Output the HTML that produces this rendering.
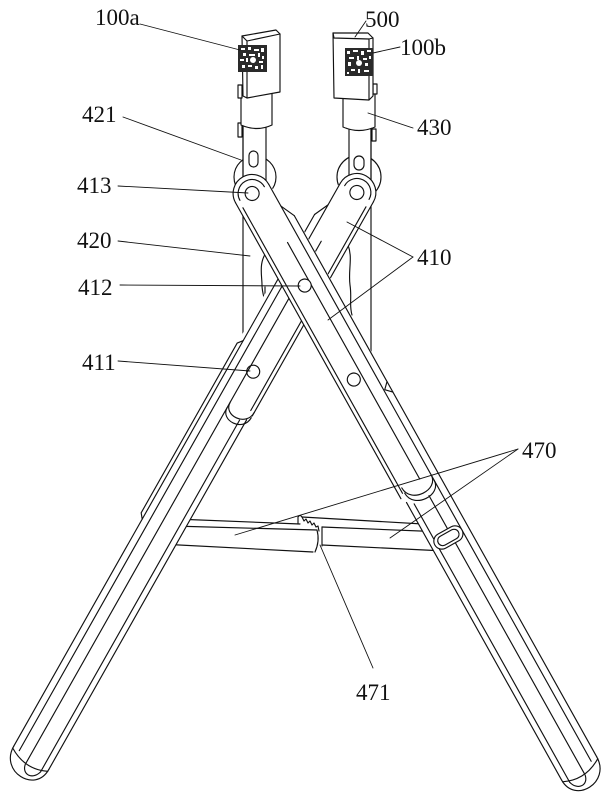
<!DOCTYPE html>
<html><head><meta charset="utf-8"><style>
html,body{margin:0;padding:0;background:#fff;}
svg{display:block;}
text{font-family:"Liberation Serif","DejaVu Serif",serif;font-size:23px;fill:#111;}
</style></head><body>
<svg width="609" height="800" viewBox="0 0 609 800" xmlns="http://www.w3.org/2000/svg">
<rect width="609" height="800" fill="#fff"/>
<g fill="none" stroke="#111" stroke-width="1.15" stroke-linejoin="round" stroke-linecap="round">

<!-- crossbar 470 -->
<line x1="175" y1="519" x2="300" y2="524"/>
<line x1="172" y1="526" x2="317" y2="530"/>
<line x1="160" y1="544" x2="313" y2="552"/>
<path d="M317,530 Q320,541 315,552"/>
<line x1="302" y1="517" x2="440" y2="525"/>
<line x1="322" y1="527" x2="445" y2="532"/>
<line x1="322" y1="545" x2="445" y2="551"/>
<line x1="322" y1="527" x2="322" y2="546"/>
<path d="M298,524 L298,517 Q300,514 302,517 L304,521 L306,519 L308,523 L310,521 L312,525 L314,523 L316,527 L318,526 L319,531"/>

<!-- housings behind pivots -->
<circle cx="255" cy="177" r="21" fill="#fff"/>
<circle cx="359" cy="177" r="22" fill="#fff"/>

<!-- rods 420 -->
<rect x="243" y="125" width="23" height="55" fill="#fff"/>
<rect x="349" y="128" width="22" height="52" fill="#fff"/>
<line x1="243" y1="125" x2="243" y2="345"/>
<line x1="371" y1="128" x2="371" y2="355"/>
<rect x="249" y="151" width="9" height="16" rx="4.5" fill="#fff"/>
<rect x="354" y="156" width="10" height="14" rx="5" fill="#fff"/>
<path d="M268,250 C258,262 262,275 262,285 C262,295 266,300 266,310"/>
<path d="M348,245 C353,258 348,270 350,285 C352,298 349,305 352,315"/>
<line x1="265" y1="287" x2="265" y2="310"/>

<!-- leg B (back) -->
<g transform="translate(609,0) scale(-1,1) translate(253,192) rotate(-29.5)">
 <path fill="#fff" stroke="none" d="M-20,0 A19,19 0 0 1 18,0 L29,40 L29,651 C26,680 -17,682 -17,654 L-17,250 L-20,246 Z"/>
 <path d="M-20,0 A19,19 0 0 1 18,0"/>
 <path d="M-15,0 A14,14 0 0 1 13,0"/>
 <circle cx="-1" cy="0" r="7"/>
 <line x1="-20" y1="0" x2="-20" y2="246"/>
 <line x1="-16" y1="8" x2="-16" y2="242"/>
 <path d="M-20,242 C-20,259 6,260 6,245"/>
 <path d="M-20,248 C-20,265 6,266 6,251"/>
 <line x1="-17" y1="252" x2="-17" y2="654"/>
 <line x1="-11" y1="256" x2="-11" y2="660"/>
 <line x1="18" y1="0" x2="18" y2="652"/>
 <line x1="6" y1="60" x2="6" y2="660"/>
 <line x1="25" y1="40" x2="25" y2="651"/>
 <path d="M18,25 L25,40"/>
 <path d="M25,185 L29,190 L29,385 L25,390"/>
 <path d="M-17,654 C-17,682 25,680 25,651"/>
 <path d="M-11,660 C-8,671 4,672 6,661"/>
 <path d="M-17,656 Q4,666 25,653"/>
 <circle cx="1" cy="207" r="6.5"/>
</g>

<!-- leg A (front) -->
<g transform="translate(253,193) rotate(-29.2)">
 <path fill="#fff" stroke="none" d="M-20,0 A19,19 0 0 1 18,0 L26,40 L26,660 C26,689 -17,691 -17,663 L-17,345 L-20,340 Z"/>
 <path d="M-20,0 A19,19 0 0 1 18,0"/>
 <path d="M-15,0 A14,14 0 0 1 13,0"/>
 <circle cx="-1" cy="0" r="7"/>
 <line x1="-20" y1="0" x2="-20" y2="339"/>
 <line x1="-16" y1="8" x2="-16" y2="335"/>
 <path d="M-14,330 C-14,349 18,350 18,333" fill="#fff"/>
 <path d="M-14,336 C-14,355 18,356 18,339"/>
 <line x1="-17" y1="345" x2="-17" y2="663"/>
 <line x1="-11" y1="350" x2="-11" y2="669"/>
 <line x1="18" y1="0" x2="18" y2="661"/>
 <line x1="6" y1="60" x2="6" y2="331"/>
 <line x1="6" y1="350" x2="6" y2="669"/>
 <line x1="25" y1="40" x2="25" y2="660"/>
 <path d="M18,25 L25,40"/>
 <path d="M25,230 L19,236 L25,242"/>
 <path d="M-17,663 C-17,691 25,689 25,660"/>
 <path d="M-11,669 C-8,680 4,681 6,670"/>
 <path d="M-17,665 Q4,675 25,662"/>
 <circle cx="0" cy="106" r="6.5" fill="#fff"/>
 <circle cx="-3" cy="212" r="6.5" fill="#fff"/>
 <rect x="-13" y="388" width="31" height="16" rx="8" fill="#fff"/>
 <rect x="-9" y="391" width="23" height="10" rx="5"/>
</g>

<!-- left tube + head -->
<rect x="238" y="123" width="4" height="14" fill="#fff"/>
<path d="M241,86 L241,125 Q257,132 272,125 L272,88" fill="#fff"/>
<rect x="238" y="85" width="4" height="13" fill="#fff"/>
<path d="M242,36 L276,30 L280,34 L280,92 L247,98 L243,96 Z" fill="#fff"/>
<path d="M242,36 L247,41 L280,34 M247,41 L247,98"/>
<g transform="translate(238,45)" stroke="none">
 <rect width="29" height="27" fill="#2a2a2a"/>
 <g fill="#fff">
  <rect x="3" y="3" width="4" height="2"/><rect x="10" y="2" width="3" height="3"/>
  <rect x="16" y="4" width="5" height="2"/><rect x="23" y="3" width="3" height="4"/>
  <rect x="5" y="8" width="3" height="3"/><rect x="11" y="9" width="6" height="2"/>
  <rect x="20" y="8" width="2" height="4"/><rect x="24" y="11" width="2" height="3"/>
  <rect x="2" y="14" width="4" height="2"/><rect x="8" y="13" width="2" height="4"/>
  <circle cx="15" cy="15" r="3"/><rect x="21" y="16" width="4" height="2"/>
  <rect x="4" y="20" width="3" height="3"/><rect x="10" y="20" width="4" height="2"/>
  <rect x="17" y="21" width="3" height="3"/><rect x="23" y="20" width="2" height="4"/>
 </g>
</g>

<!-- right tube + head -->
<rect x="372" y="129" width="4" height="12" fill="#fff"/>
<path d="M343,88 L343,127 Q359,134 375,127 L375,88" fill="#fff"/>
<rect x="373" y="84" width="4" height="10" fill="#fff"/>
<path d="M333,33 L368,33 L373,38 L373,96 L369,100 L334,98 Z" fill="#fff"/>
<path d="M333,33 L334,38 L369,39 L373,38 M369,39 L369,100"/>
<g transform="translate(345,48)" stroke="none">
 <rect width="28" height="28" fill="#2a2a2a"/>
 <g fill="#fff">
  <rect x="2" y="3" width="3" height="3"/><rect x="8" y="2" width="5" height="2"/>
  <rect x="16" y="3" width="3" height="4"/><rect x="22" y="2" width="4" height="2"/>
  <rect x="4" y="9" width="5" height="2"/><rect x="12" y="8" width="2" height="4"/>
  <rect x="18" y="10" width="4" height="2"/><rect x="24" y="8" width="2" height="3"/>
  <circle cx="14" cy="15" r="3"/><rect x="3" y="14" width="3" height="4"/>
  <rect x="20" y="15" width="3" height="3"/><rect x="6" y="21" width="4" height="2"/>
  <rect x="13" y="21" width="2" height="4"/><rect x="19" y="22" width="5" height="2"/>
  <rect x="2" y="24" width="2" height="2"/>
 </g>
</g>

<!-- leaders -->
<g stroke-width="0.9">
 <line x1="140" y1="24" x2="240" y2="50"/>
 <line x1="123" y1="117" x2="241" y2="160"/>
 <line x1="118" y1="186" x2="248" y2="193"/>
 <line x1="118" y1="241" x2="250" y2="256"/>
 <line x1="120" y1="285" x2="300" y2="286"/>
 <line x1="118" y1="361" x2="250" y2="371"/>
 <line x1="366" y1="21" x2="355" y2="37"/>
 <line x1="400" y1="47" x2="373" y2="53"/>
 <line x1="413" y1="128" x2="368" y2="113"/>
 <line x1="413" y1="257" x2="347" y2="222"/>
 <line x1="413" y1="257" x2="328" y2="320"/>
 <line x1="518" y1="449" x2="235" y2="535"/>
 <line x1="518" y1="449" x2="390" y2="538"/>
 <line x1="320" y1="545" x2="373" y2="668"/>
</g>
</g>

<!-- labels -->
<text x="95" y="25">100a</text>
<text x="82" y="122">421</text>
<text x="77" y="193">413</text>
<text x="77" y="248">420</text>
<text x="78" y="295">412</text>
<text x="82" y="370">411</text>
<text x="365" y="27">500</text>
<text x="400" y="55">100b</text>
<text x="417" y="135">430</text>
<text x="417" y="265">410</text>
<text x="522" y="458">470</text>
<text x="356" y="700">471</text>
</svg>
</body></html>
